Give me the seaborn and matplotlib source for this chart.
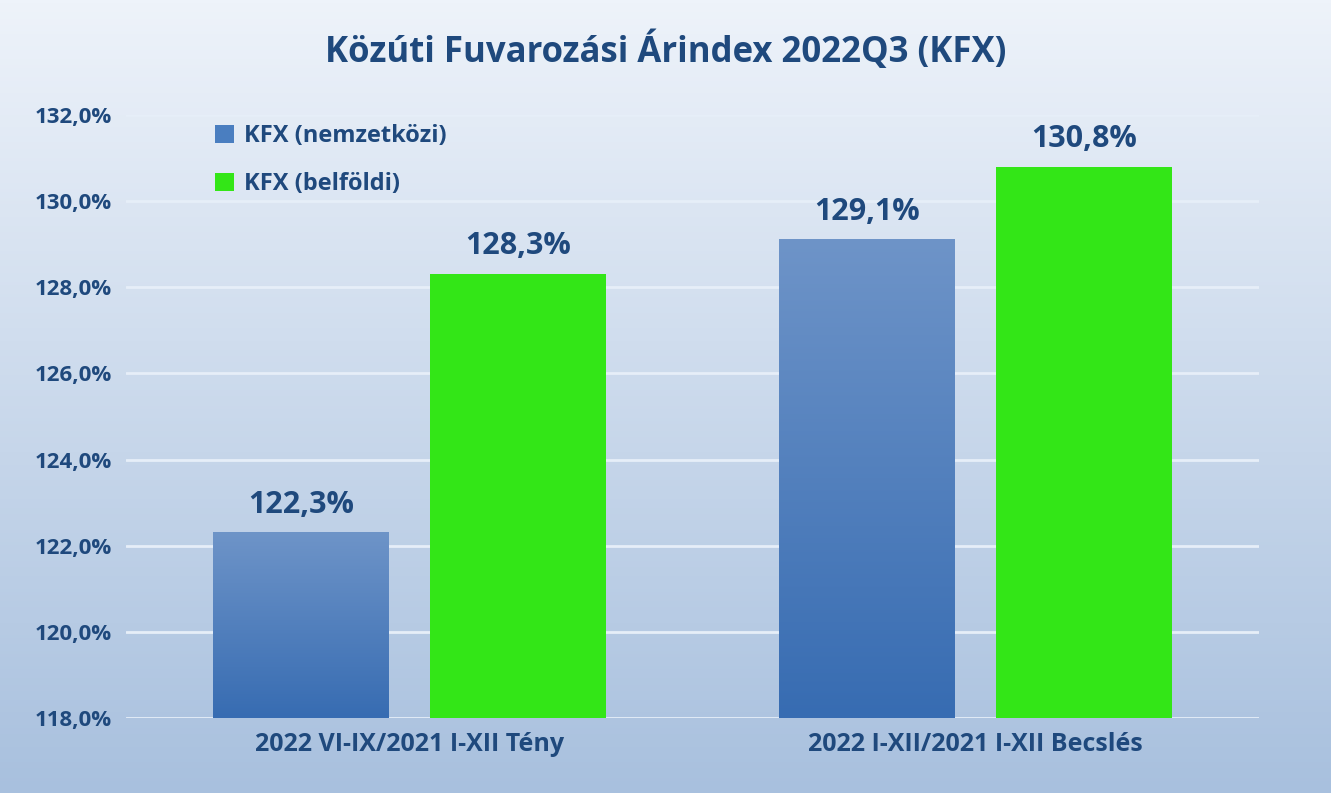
import numpy as np
import pandas as pd
import matplotlib
matplotlib.use("Agg")
import matplotlib.pyplot as plt
import seaborn as sns

categories = ["2022 VI-IX/2021 I-XII Tény", "2022 I-XII/2021 I-XII Becslés"]
series = ["KFX (nemzetközi)", "KFX (belföldi)"]
nemzetkozi = [122.3, 129.1]
belfoldi = [128.3, 130.8]
yticks = [118, 120, 122, 124, 126, 128, 130, 132]

df = pd.DataFrame({
    "cat": categories * 2,
    "series": [series[0]] * 2 + [series[1]] * 2,
    "val": nemzetkozi + belfoldi,
})

sns.set_style("white")
plt.rcParams["font.family"] = ["Open Sans", "DejaVu Sans"]
navy = "#1F497D"

fig = plt.figure(figsize=(13.31, 7.93), dpi=100)
# background gradient
bg = fig.add_axes([0, 0, 1, 1], zorder=-10)
grad = np.linspace(0, 1, 256)[:, None]
top = np.array([238, 243, 250]) / 255
bot = np.array([168, 192, 222]) / 255
img = top + (bot - top) * grad[:, :, None]
bg.imshow(img, aspect="auto", extent=[0, 1, 0, 1])
bg.axis("off")

ax = fig.add_axes([126 / 1331, 75 / 793, 1133 / 1331, 603 / 793])
ax.patch.set_alpha(0)
sns.barplot(data=df, x="cat", y="val", hue="series", ax=ax,
            palette=["#4A7EC0", "#33E617"], width=0.766, gap=0.19,
            saturation=1, linewidth=0, zorder=3)
ax.set_ylim(118, 132)
ax.set_xlim(-0.5, 1.5)
ax.set_yticks(yticks)
ax.set_yticklabels([f"{t},0%" for t in yticks], fontsize=16, fontweight="bold", color=navy)
ax.set_xticks([0, 1])
ax.set_xticklabels(categories, fontsize=18, fontweight="bold", color=navy)
ax.tick_params(length=0, pad=10)
ax.set_xlabel("")
ax.set_ylabel("")
ax.yaxis.grid(True, color="#E6EEF8", linewidth=2, zorder=0)
for s in ax.spines.values():
    s.set_visible(False)

# blue bar gradients + labels
vals = {series[0]: nemzetkozi, series[1]: belfoldi}
for cont, name in zip(ax.containers, series):
    for bar, v in zip(cont, vals[name]):
        x0, w, h = bar.get_x(), bar.get_width(), bar.get_height()
        bar.set_edgecolor("none")
        if name == series[0]:
            g = np.linspace(0, 1, 200)[:, None]
            c1 = np.array([110, 148, 200]) / 255
            c2 = np.array([55, 108, 178]) / 255
            im = c1 + (c2 - c1) * g[:, :, None]
            bar.set_facecolor("none")
            ax.imshow(im, aspect="auto", extent=[x0, x0 + w, 118, v],
                      zorder=3)
        ax.text(x0 + w / 2, v + 0.3, f"{v:.1f}%".replace(".", ","),
                ha="center", va="bottom", fontsize=22, fontweight="bold",
                color=navy, zorder=5)
ax.set_xlim(-0.5, 1.5)
ax.set_ylim(118, 132)
ax.set_aspect("auto")

leg = ax.legend(loc="upper left", bbox_to_anchor=(0.06, 1.02), frameon=False,
                handlelength=0.8, handleheight=0.8, handletextpad=0.4,
                labelspacing=1.0, fontsize=17)
for t in leg.get_texts():
    t.set_color(navy)
    t.set_fontweight("bold")
leg.legend_handles[0].set_facecolor("#4A7EC0")

fig.text(0.5, 0.935, "Közúti Fuvarozási Árindex 2022Q3 (KFX)", ha="center",
         va="center", fontsize=25, fontweight="bold", color=navy)
fig.savefig("out.png", dpi=100)
